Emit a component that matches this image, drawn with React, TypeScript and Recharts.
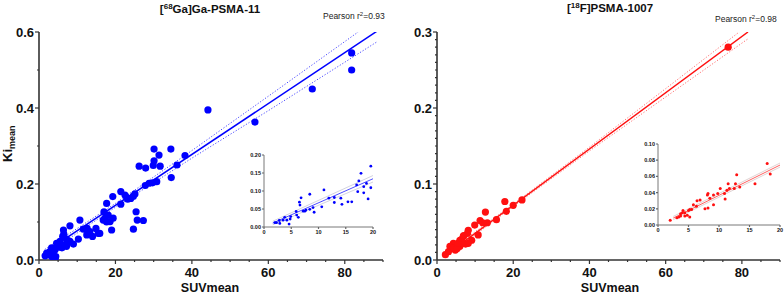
import React from "react";
import { ScatterChart, Scatter, XAxis, YAxis } from "recharts";

// [68Ga]Ga-PSMA-11 : SUVmean vs Ki mean (main panel)
const gaSuv = [
  30.1, 34.5, 44.2, 56.5, 71.5, 81.8, 81.8, 31.4, 30.1, 38.2, 26.2, 27.9, 29.9, 31.7, 36.1, 34.6,
  27.8, 28.8, 29.7, 30.8, 21.4, 19.3, 22.5, 24.0, 24.7, 25.1, 21.4, 17.7, 17.0, 18.1, 17.3, 19.4,
  17.7, 16.8, 18.6, 25.4, 25.7, 27.3, 24.7, 19.0, 10.7, 11.6, 12.6, 13.3, 12.5, 14.0, 14.9, 15.5,
  15.9, 8.1, 6.4, 6.5, 6.2, 7.2, 8.1, 9.0, 10.3, 5.5, 4.6, 6.8, 5.1, 6.0, 4.2, 3.3, 2.9, 2.0, 1.6,
  2.4, 3.7, 4.4, 4.2, 3.3, 7.2, 23.2, 22.9, 7.6, 5.8,
];
const gaKi = [
  0.292, 0.292, 0.395, 0.363, 0.45, 0.545, 0.5, 0.276, 0.261, 0.275, 0.247, 0.242, 0.249, 0.247,
  0.25, 0.217, 0.196, 0.202, 0.203, 0.206, 0.18, 0.167, 0.171, 0.162, 0.168, 0.174, 0.147, 0.149,
  0.127, 0.118, 0.11, 0.11, 0.1, 0.105, 0.101, 0.127, 0.105, 0.104, 0.081, 0.079, 0.105, 0.081,
  0.083, 0.075, 0.066, 0.062, 0.083, 0.07, 0.07, 0.09, 0.079, 0.068, 0.062, 0.055, 0.049, 0.042,
  0.055, 0.049, 0.044, 0.04, 0.034, 0.032, 0.027, 0.032, 0.023, 0.018, 0.011, 0.014, 0.016, 0.009,
  0.004, 0.009, 0.036, 0.16, 0.165, 0.048, 0.038,
];
const gaFitX = [1.5, 88.4];
const gaFitY = [0.02, 0.602];
const gaUpperX = [1.5, 10, 20, 40, 60, 83.5];
const gaUpperY = [0.028, 0.083, 0.149, 0.288, 0.431, 0.6];
const gaLowerX = [1.5, 10, 20, 40, 60, 88.4];
const gaLowerY = [0.012, 0.071, 0.139, 0.268, 0.393, 0.574];

// [68Ga] inset (SUVmean 0-20)
const gaInsetSuv = [
  19.6, 17.8, 17.4, 17.0, 18.8, 18.3, 19.6, 17.2, 18.3, 19.1, 11.0, 8.4, 6.8, 6.5, 6.6, 11.9, 12.9,
  12.9, 14.1, 14.3, 15.4, 16.1, 10.6, 9.0, 9.2, 8.4, 7.7, 7.2, 7.5, 5.9, 6.0, 6.3, 4.9, 4.8, 4.2,
  3.5, 3.8, 2.8, 2.0, 2.3, 4.6, 2.9,
];
const gaInsetKi = [
  0.169, 0.149, 0.128, 0.117, 0.121, 0.112, 0.109, 0.098, 0.095, 0.078, 0.103, 0.091, 0.081, 0.069,
  0.061, 0.08, 0.082, 0.068, 0.08, 0.063, 0.07, 0.07, 0.056, 0.054, 0.041, 0.049, 0.047, 0.044,
  0.044, 0.043, 0.033, 0.027, 0.029, 0.022, 0.019, 0.019, 0.027, 0.018, 0.012, 0.012, 0.008, 0.01,
];
const gaInsetFitX = [1.6, 20];
const gaInsetFitY = [0.011, 0.134];
const gaInsetUpperY = [0.016, 0.143];
const gaInsetLowerY = [0.006, 0.125];

// [18F]PSMA-1007 main panel
const fSuv = [
  76.4, 17.8, 20.0, 22.3, 18.2, 12.7, 15.6, 13.2, 11.3, 12.0, 9.9, 10.8, 8.2, 8.0, 6.9, 6.0, 9.1,
  7.5, 8.2, 4.3, 5.2, 3.4, 3.9, 4.8, 3.0, 2.2, 6.0, 6.6, 6.4, 7.0, 4.3, 5.3, 5.5,
];
const fKi = [
  0.28, 0.077, 0.072, 0.079, 0.064, 0.063, 0.053, 0.049, 0.052, 0.049, 0.046, 0.033, 0.039, 0.035,
  0.031, 0.026, 0.026, 0.021, 0.022, 0.022, 0.018, 0.018, 0.015, 0.013, 0.011, 0.007, 0.018, 0.022,
  0.027, 0.032, 0.016, 0.015, 0.022,
];
const fFitX = [2, 81.6];
const fFitY = [0.0054, 0.3];
const fUpperX = [2, 10, 20, 40, 60, 79.3];
const fUpperY = [0.0074, 0.037, 0.0735, 0.1485, 0.2255, 0.3];
const fLowerX = [2, 10, 20, 40, 60, 81.6];
const fLowerY = [0.0034, 0.033, 0.0705, 0.1435, 0.2145, 0.291];

// [18F] inset
const fInsetSuv = [
  17.9, 18.4, 15.9, 12.9, 13.4, 12.7, 12.5, 11.5, 11.7, 11.3, 10.9, 11.0, 10.2, 9.8, 9.1, 9.1, 8.2,
  8.1, 8.5, 8.2, 7.7, 6.9, 6.4, 5.8, 6.3, 5.5, 5.2, 5.0, 4.4, 4.1, 4.0, 3.7, 4.4, 4.8, 3.4, 3.1,
  5.2, 2.0, 3.7,
];
const fInsetKi = [
  0.076, 0.063, 0.051, 0.062, 0.047, 0.051, 0.045, 0.051, 0.045, 0.043, 0.039, 0.032, 0.045, 0.039,
  0.037, 0.025, 0.039, 0.037, 0.033, 0.021, 0.02, 0.031, 0.03, 0.025, 0.023, 0.019, 0.019, 0.018,
  0.015, 0.018, 0.015, 0.014, 0.011, 0.012, 0.01, 0.009, 0.01, 0.006, 0.011,
];
const fInsetFitX = [2.5, 20];
const fInsetFitY = [0.0086, 0.074];
const fInsetUpperY = [0.0106, 0.0765];
const fInsetLowerY = [0.0066, 0.0715];

const xTicksMain = [0, 5, 10, 15, 20, 25, 30, 35, 40, 45, 50, 55, 60, 65, 70, 75, 80, 85, 90];
const xMajorMain = [0, 20, 40, 60, 80];
const gaYTicks = [0, 0.1, 0.2, 0.3, 0.4, 0.5, 0.6];
const gaYMajor = [0, 0.2, 0.4, 0.6];
const fYTicks = Array.from({ length: 31 }, (_, i) => +(i * 0.01).toFixed(2));
const fYMajor = [0, 0.1, 0.2, 0.3];
const insetXTicks = [0, 5, 10, 15, 20];
const gaInsetYTicks = [0, 0.05, 0.1, 0.15, 0.2];
const fInsetYTicks = [0, 0.02, 0.04, 0.06, 0.08, 0.1];

const zip = (xs: number[], ys: number[]) => xs.map((x, i) => ({ x, y: ys[i] }));

const FONT = "'Liberation Sans', Arial, sans-serif";
const BLUE = "#0000ff";
const RED = "#ff1010";

const dot = (r: number, fill: string) => (p: any) =>
  <circle cx={p.cx} cy={p.cy} r={r} fill={fill} />;
const noDot = () => <g />;

const fmt1 = (v: number) => v.toFixed(1);
const fmt2 = (v: number) => v.toFixed(2);

const XTick = ({ majors, size, fontSize, len, color }: any) => (p: any) => {
  const v = p.payload.value;
  const major = majors.includes(v);
  return (
    <g>
      <line x1={p.x} x2={p.x} y1={p.y} y2={p.y + (major ? len : len / 2)} stroke={color} strokeWidth={1.2} />
      {major && (
        <text x={p.x} y={p.y + size} textAnchor="middle" fontSize={fontSize} fontWeight="bold" fontFamily={FONT} fill="#111">
          {v}
        </text>
      )}
    </g>
  );
};

const YTick = ({ majors, fontSize, len, color, format, dy }: any) => (p: any) => {
  const v = p.payload.value;
  const major = majors.some((m: number) => Math.abs(m - v) < 1e-9);
  return (
    <g>
      <line x1={p.x - (major ? len : len / 2)} x2={p.x} y1={p.y} y2={p.y} stroke={color} strokeWidth={1.2} />
      {major && (
        <text x={p.x - len - 1} y={p.y + dy} textAnchor="end" fontSize={fontSize} fontWeight="bold" fontFamily={FONT} fill="#111">
          {format(v)}
        </text>
      )}
    </g>
  );
};

const Panel = (props: any) => {
  const { left, top, width, height, margin, yWidth, xHeight, xDomain, yDomain, xTicks, yTicks, xTick, yTick, axisColor, axisWidth, children } = props;
  return (
    <div style={{ position: "absolute", left, top }}>
      <ScatterChart width={width} height={height} margin={margin}>
        <XAxis
          type="number"
          dataKey="x"
          domain={xDomain}
          ticks={xTicks}
          interval={0}
          height={xHeight}
          tickSize={0}
          tickMargin={0}
          tick={xTick}
          axisLine={{ stroke: axisColor, strokeWidth: axisWidth }}
          allowDataOverflow
        />
        <YAxis
          type="number"
          dataKey="y"
          domain={yDomain}
          ticks={yTicks}
          interval={0}
          width={yWidth}
          tickSize={0}
          tickMargin={0}
          tick={yTick}
          axisLine={{ stroke: axisColor, strokeWidth: axisWidth }}
          allowDataOverflow
        />
        {children}
      </ScatterChart>
    </div>
  );
};

const lineSeries = (key: string, data: any[], stroke: string, width: number, dash?: string) => (
  <Scatter
    key={key}
    data={data}
    line={{ stroke, strokeWidth: width, strokeDasharray: dash }}
    lineType="joint"
    shape={noDot}
    isAnimationActive={false}
  />
);

export default function App() {
  const gaPoints = zip(gaSuv, gaKi);
  const fPoints = zip(fSuv, fKi);
  return (
    <div style={{ position: "absolute", left: 0, top: 0, width: 784, height: 294, background: "#fff", overflow: "hidden" }}>
      {/* left main */}
      <Panel
        left={0} top={0} width={400} height={294}
        margin={{ top: 32, right: 17, bottom: 0, left: 0 }}
        yWidth={39} xHeight={34}
        xDomain={[0, 90]} yDomain={[0, 0.6]}
        xTicks={xTicksMain} yTicks={gaYTicks}
        xTick={XTick({ majors: xMajorMain, size: 17, fontSize: 13, len: 4, color: "#333" })}
        yTick={YTick({ majors: gaYMajor, fontSize: 13, len: 4, color: "#333", format: fmt1, dy: 4.5 })}
        axisColor="#333" axisWidth={1.6}
      >
        {lineSeries("gu", zip(gaUpperX, gaUpperY), "#4a4aff", 1, "1.2 1.8")}
        {lineSeries("gl", zip(gaLowerX, gaLowerY), "#4a4aff", 1, "1.2 1.8")}
        {lineSeries("gf", zip(gaFitX, gaFitY), BLUE, 1.5)}
        <Scatter data={gaPoints} shape={dot(3.6, BLUE)} isAnimationActive={false} />
      </Panel>
      {/* right main */}
      <Panel
        left={400} top={0} width={384} height={294}
        margin={{ top: 32, right: 4, bottom: 0, left: 0 }}
        yWidth={37} xHeight={34}
        xDomain={[0, 90]} yDomain={[0, 0.3]}
        xTicks={xTicksMain} yTicks={fYTicks}
        xTick={XTick({ majors: xMajorMain, size: 17, fontSize: 13, len: 4, color: "#333" })}
        yTick={YTick({ majors: fYMajor, fontSize: 13, len: 4, color: "#333", format: fmt1, dy: 4.5 })}
        axisColor="#333" axisWidth={1.6}
      >
        {lineSeries("fu", zip(fUpperX, fUpperY), "#ff7070", 1, "1.2 1.8")}
        {lineSeries("fl", zip(fLowerX, fLowerY), "#ff7070", 1, "1.2 1.8")}
        {lineSeries("ff", zip(fFitX, fFitY), RED, 1.5)}
        <Scatter data={fPoints} shape={dot(3.6, RED)} isAnimationActive={false} />
      </Panel>
      {/* left inset */}
      <Panel
        left={240} top={150} width={140} height={88}
        margin={{ top: 5, right: 7, bottom: 0, left: 0 }}
        yWidth={24} xHeight={11}
        xDomain={[0, 20]} yDomain={[0, 0.2]}
        xTicks={insetXTicks} yTicks={gaInsetYTicks}
        xTick={XTick({ majors: insetXTicks, size: 7, fontSize: 5.5, len: 2, color: "#666" })}
        yTick={YTick({ majors: gaInsetYTicks, fontSize: 5.5, len: 2, color: "#666", format: fmt2, dy: 2 })}
        axisColor="#555" axisWidth={0.8}
      >
        {lineSeries("giu", zip(gaInsetFitX, gaInsetUpperY), "#c8c8d8", 0.8)}
        {lineSeries("gil", zip(gaInsetFitX, gaInsetLowerY), "#c8c8d8", 0.8)}
        {lineSeries("gif", zip(gaInsetFitX, gaInsetFitY), "#3a3aff", 0.9)}
        <Scatter data={zip(gaInsetSuv, gaInsetKi)} shape={dot(1.4, BLUE)} isAnimationActive={false} />
      </Panel>
      {/* right inset */}
      <Panel
        left={634} top={139} width={150} height={97}
        margin={{ top: 5, right: 4, bottom: 0, left: 0 }}
        yWidth={24} xHeight={11}
        xDomain={[0, 20]} yDomain={[0, 0.1]}
        xTicks={insetXTicks} yTicks={fInsetYTicks}
        xTick={XTick({ majors: insetXTicks, size: 7, fontSize: 5.5, len: 2, color: "#666" })}
        yTick={YTick({ majors: fInsetYTicks, fontSize: 5.5, len: 2, color: "#666", format: fmt2, dy: 2 })}
        axisColor="#555" axisWidth={0.8}
      >
        {lineSeries("fiu", zip(fInsetFitX, fInsetUpperY), "#d8c8c8", 0.8)}
        {lineSeries("fil", zip(fInsetFitX, fInsetLowerY), "#d8c8c8", 0.8)}
        {lineSeries("fif", zip(fInsetFitX, fInsetFitY), "#ff5050", 0.9)}
        <Scatter data={zip(fInsetSuv, fInsetKi)} shape={dot(1.5, RED)} isAnimationActive={false} />
      </Panel>
      {/* titles and labels */}
      <svg width={784} height={294} style={{ position: "absolute", left: 0, top: 0, pointerEvents: "none" }} fontFamily={FONT}>
        <text x={210} y={13} textAnchor="middle" fontSize={11.5} fontWeight="bold" fill="#111">
          [<tspan fontSize={8} dy={-4}>68</tspan><tspan dy={4}>Ga]Ga-PSMA-11</tspan>
        </text>
        <text x={610} y={12} textAnchor="middle" fontSize={11.5} fontWeight="bold" fill="#111">
          [<tspan fontSize={8} dy={-4}>18</tspan><tspan dy={4}>F]PSMA-1007</tspan>
        </text>
        <text x={323} y={19} fontSize={8.5} fill="#222">
          Pearson r<tspan fontSize={6} dy={-3}>2</tspan><tspan dy={3}>=0.93</tspan>
        </text>
        <text x={715} y={22} fontSize={8.5} fill="#222">
          Pearson r<tspan fontSize={6} dy={-3}>2</tspan><tspan dy={3}>=0.98</tspan>
        </text>
        <text x={210} y={292} textAnchor="middle" fontSize={12.5} fontWeight="bold" fill="#111">SUVmean</text>
        <text x={610} y={292} textAnchor="middle" fontSize={12.5} fontWeight="bold" fill="#111">SUVmean</text>
        <text transform="translate(12,162) rotate(-90)" fontSize={13} fontWeight="bold" fill="#111">
          Ki<tspan fontSize={9} dy={3}>mean</tspan>
        </text>
      </svg>
    </div>
  );
}
